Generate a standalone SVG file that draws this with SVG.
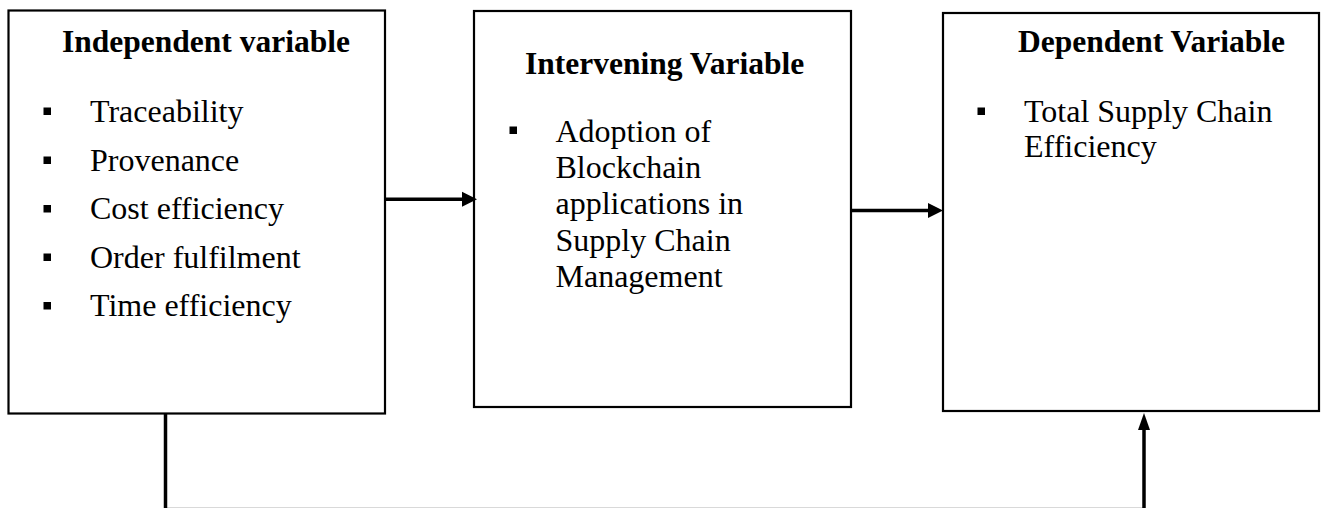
<svg xmlns="http://www.w3.org/2000/svg" width="1326" height="508" viewBox="0 0 1326 508">
<style>
.box{fill:#fff;stroke:#000;stroke-width:2.2}
.h{font-family:"Liberation Serif","Times New Roman",serif;font-weight:bold;font-size:31.5px;fill:#000}
.t{font-family:"Liberation Serif","Times New Roman",serif;font-size:32px;fill:#000}
.b{fill:#000}
.ln{stroke:#000;stroke-width:3.5;fill:none}
</style>
<defs>
<marker id="ah" viewBox="0 0 15 15" refX="0" refY="7.5" markerWidth="15" markerHeight="15" markerUnits="userSpaceOnUse" orient="auto" overflow="visible">
<path d="M0,0 L15,7.5 L0,15 Z" fill="#000"/>
</marker>
<marker id="ah2" viewBox="0 0 17 12" refX="0" refY="6" markerWidth="17" markerHeight="12" markerUnits="userSpaceOnUse" orient="auto" overflow="visible">
<path d="M0,0 L17,6 L0,12 Z" fill="#000"/>
</marker>
</defs>
<rect width="1326" height="508" fill="#fff"/>
<g id="independent">
<rect class="box" x="8.5" y="10.5" width="376.5" height="403"/>
<text class="h" x="62" y="52">Independent variable</text>
<rect class="b" x="43.5" y="107.5" width="7.5" height="7.5"/>
<text class="t" x="90" y="122">Traceability</text>
<rect class="b" x="43.5" y="156.5" width="7.5" height="7.5"/>
<text class="t" x="90" y="170.5">Provenance</text>
<rect class="b" x="43.5" y="205" width="7.5" height="7.5"/>
<text class="t" x="90" y="219">Cost efficiency</text>
<rect class="b" x="43.5" y="253.5" width="7.5" height="7.5"/>
<text class="t" x="90" y="267.5">Order fulfilment</text>
<rect class="b" x="43.5" y="302" width="7.5" height="7.5"/>
<text class="t" x="90" y="316">Time efficiency</text>
</g>
<g id="intervening">
<rect class="box" x="474" y="11" width="377" height="396"/>
<text class="h" x="525" y="74">Intervening Variable</text>
<rect class="b" x="509.5" y="126.5" width="7.5" height="7.5"/>
<text class="t" x="555.5" y="141.5">Adoption of</text>
<text class="t" x="555.5" y="178">Blockchain</text>
<text class="t" x="555.5" y="214">applications in</text>
<text class="t" x="555.5" y="250.5">Supply Chain</text>
<text class="t" x="555.5" y="287">Management</text>
</g>
<g id="dependent">
<rect class="box" x="943" y="13" width="376" height="398"/>
<text class="h" x="1018" y="51.5">Dependent Variable</text>
<rect class="b" x="977.5" y="107.5" width="7.5" height="7.5"/>
<text class="t" x="1024" y="121.5">Total Supply Chain</text>
<text class="t" x="1024" y="156.5">Efficiency</text>
</g>
<g id="connectors">
<line class="ln" x1="386" y1="199.3" x2="462" y2="199.3" marker-end="url(#ah)"/>
<line class="ln" x1="852" y1="210.5" x2="928" y2="210.5" marker-end="url(#ah)"/>
<line x1="166" y1="507.5" x2="1144" y2="507.5" stroke="#d9d9d9" stroke-width="1"/>
<line class="ln" x1="165.5" y1="414" x2="165.5" y2="508" stroke-width="4"/>
<line class="ln" x1="1144" y1="508" x2="1144" y2="430" stroke-width="4" marker-end="url(#ah2)"/>
</g>
</svg>
